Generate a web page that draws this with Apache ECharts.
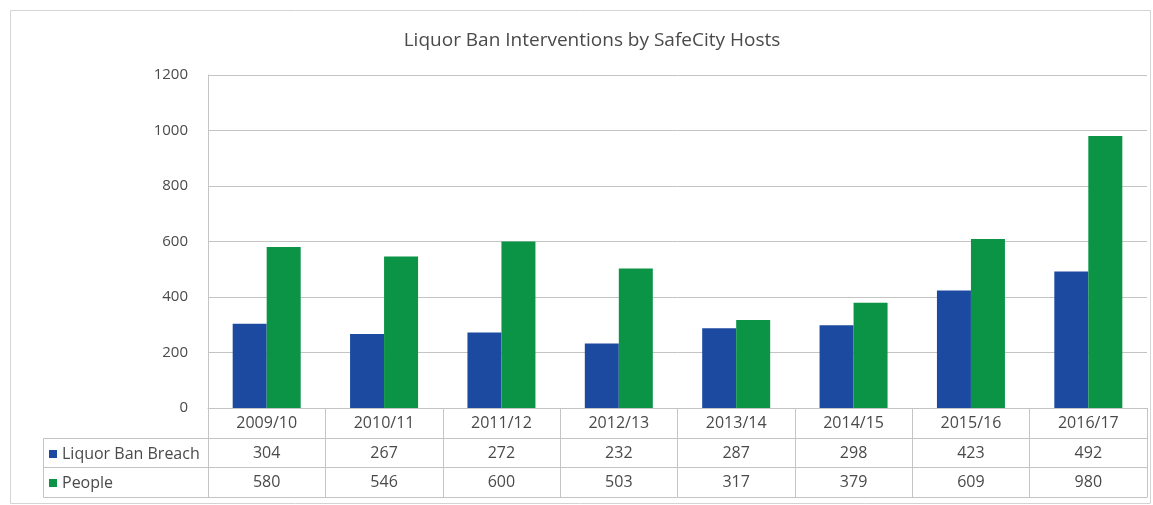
<!DOCTYPE html>
<html>
<head>
<meta charset="utf-8">
<script src="https://cdn.jsdelivr.net/npm/echarts@6/dist/echarts.min.js"></script>
<style>
  html, body { margin: 0; padding: 0; background: #fff; }
  #chart { width: 1153px; height: 505px; }
</style>
</head>
<body>
<div id="chart"></div>
<script>
const categories = ['2009/10', '2010/11', '2011/12', '2012/13', '2013/14', '2014/15', '2015/16', '2016/17'];
const liquorBanBreach = [304, 267, 272, 232, 287, 298, 423, 492];
const people = [580, 546, 600, 503, 317, 379, 609, 980];
const yTicks = { min: 0, max: 1200, interval: 200 };

const blue = '#1b4aa0';
const green = '#0b9446';
const lineColor = '#c4c4c4';
const textColor = '#4a4a4a';
const font = 'Open Sans';

const chart = echarts.init(document.getElementById('chart'));

// extra x axes that carry the data-table rows
function tableAxis(offset, labels, withLabel) {
  return {
    type: 'category',
    data: labels,
    position: 'bottom',
    offset: offset,
    axisLine: { show: true, lineStyle: { color: lineColor, width: 1 } },
    axisTick: { show: false },
    axisLabel: {
      show: withLabel,
      interval: 0,
      margin: 7,
      color: textColor,
      fontFamily: font,
      fontSize: 16
    },
    splitLine: { show: false }
  };
}

chart.setOption({
  animation: false,
  title: {
    text: 'Liquor Ban Interventions by SafeCity Hosts',
    left: 587,
    textAlign: 'center',
    top: 26,
    textStyle: { fontFamily: font, fontSize: 19, fontWeight: 'normal', color: textColor }
  },
  legend: {
    orient: 'vertical',
    left: 44,
    top: 440,
    icon: 'rect',
    itemWidth: 8,
    itemHeight: 8,
    itemGap: 11,
    selectedMode: false,
    textStyle: { fontFamily: font, fontSize: 16, color: textColor, lineHeight: 18 }
  },
  grid: { left: 208, right: 6, top: 75, bottom: 97, containLabel: false },
  xAxis: [
    {
      type: 'category',
      data: categories,
      position: 'bottom',
      axisLine: { show: true, lineStyle: { color: lineColor, width: 1 } },
      axisTick: { show: true, interval: 0, length: 89, lineStyle: { color: lineColor } },
      axisLabel: { interval: 0, margin: 7, color: textColor, fontFamily: font, fontSize: 16 }
    },
    tableAxis(30, liquorBanBreach.map(String), true),
    tableAxis(59, people.map(String), true),
    tableAxis(89, categories, false)
  ],
  yAxis: {
    type: 'value',
    min: yTicks.min,
    max: yTicks.max,
    interval: yTicks.interval,
    axisLine: { show: true, lineStyle: { color: lineColor } },
    axisTick: { show: false },
    axisLabel: { margin: 20, color: textColor, fontFamily: font, fontSize: 15, formatter: v => String(v) },
    splitLine: { show: true, lineStyle: { color: lineColor } }
  },
  series: [
    {
      name: 'Liquor Ban Breach',
      type: 'bar',
      data: liquorBanBreach,
      barWidth: 34,
      barGap: 0,
      itemStyle: { color: blue }
    },
    {
      name: 'People',
      type: 'bar',
      data: people,
      barWidth: 34,
      barGap: 0,
      itemStyle: { color: green }
    }
  ],
  graphic: [
    {
      type: 'rect',
      silent: true,
      shape: { x: 10.5, y: 10.5, width: 1140, height: 493 },
      style: { fill: null, stroke: '#d4d4d4', lineWidth: 1 }
    },
    {
      type: 'rect',
      silent: true,
      shape: { x: 43.5, y: 438.5, width: 165, height: 59 },
      style: { fill: null, stroke: lineColor, lineWidth: 1 }
    },
    {
      type: 'line',
      silent: true,
      shape: { x1: 43, y1: 467.5, x2: 208, y2: 467.5 },
      style: { stroke: lineColor, lineWidth: 1 }
    }
  ]
});
</script>
</body>
</html>
